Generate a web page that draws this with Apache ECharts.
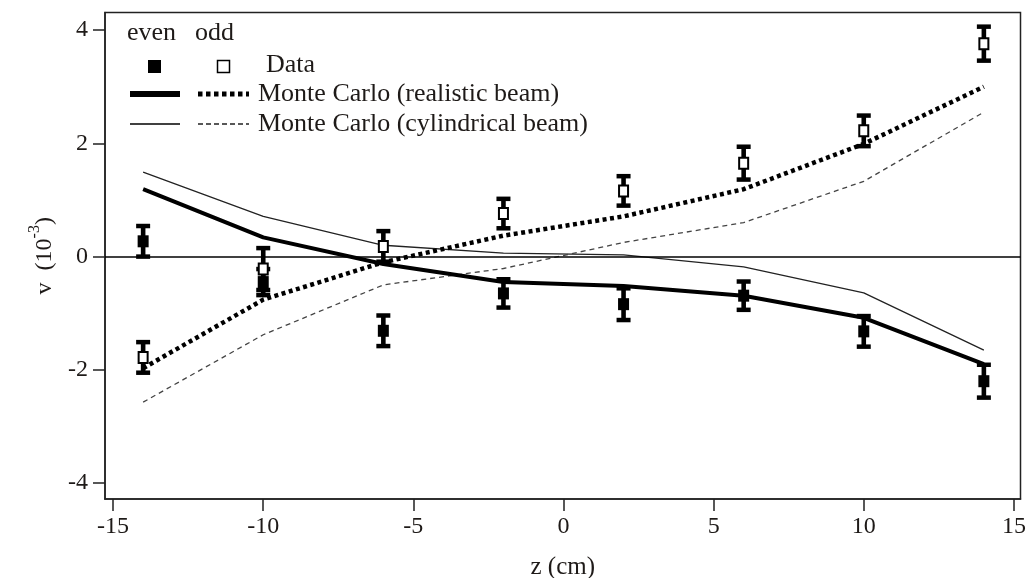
<!DOCTYPE html>
<html>
<head>
<meta charset="utf-8">
<script src="https://cdn.jsdelivr.net/npm/echarts@6/dist/echarts.min.js"></script>
<style>html,body{margin:0;padding:0;background:#fff;}#c{width:1028px;height:578px;}</style>
</head>
<body>
<div id="c"></div>
<script>
// ---- data ----
const zPos = [-14, -10, -6, -2, 2, 6, 10, 14];
const evenData = [0.27, -0.45, -1.31, -0.65, -0.84, -0.69, -1.32, -2.20];
const evenErr  = [0.27, 0.23, 0.27, 0.25, 0.28, 0.25, 0.27, 0.29];
const oddData  = [-1.78, -0.22, 0.18, 0.76, 1.16, 1.65, 2.22, 3.76];
const oddErr   = [0.27, 0.37, 0.27, 0.26, 0.26, 0.29, 0.27, 0.30];
const mcRealEven = [1.19, 0.34, -0.13, -0.45, -0.52, -0.69, -1.08, -1.90];
const mcRealOdd  = [-1.97, -0.76, -0.10, 0.37, 0.71, 1.19, 1.99, 3.00];
const mcCylEven  = [1.49, 0.71, 0.20, 0.06, 0.03, -0.18, -0.64, -1.65];
const mcCylOdd   = [-2.57, -1.38, -0.50, -0.21, 0.25, 0.60, 1.33, 2.55];
const xTicks = [-15, -10, -5, 0, 5, 10, 15];
const yTicks = [-4, -2, 0, 2, 4];
const legendLabels = ['even', 'odd', 'Data', 'Monte Carlo (realistic beam)', 'Monte Carlo (cylindrical beam)'];

const FONT = 'Liberation Serif';
const TXT = '#1e1a18';

const pairs = (ys) => zPos.map((z, i) => [z, ys[i]]);
const triples = (ys, es) => zPos.map((z, i) => [z, ys[i], es[i]]);

function errRender(filled) {
  return function (params, api) {
    const x = api.value(0), y = api.value(1), e = api.value(2);
    const top = api.coord([x, y + e]);
    const bot = api.coord([x, y - e]);
    const c = api.coord([x, y]);
    const hw = 7, ch = 4.5;
    const kids = [
      { type: 'rect', shape: { x: c[0] - 2.3, y: top[1], width: 4.6, height: bot[1] - top[1] }, style: { fill: '#000' } },
      { type: 'rect', shape: { x: top[0] - hw, y: top[1] - ch / 2, width: 2 * hw, height: ch }, style: { fill: '#000' } },
      { type: 'rect', shape: { x: bot[0] - hw, y: bot[1] - ch / 2, width: 2 * hw, height: ch }, style: { fill: '#000' } }
    ];
    if (filled) {
      kids.push({ type: 'rect', shape: { x: c[0] - 5.5, y: c[1] - 6, width: 11, height: 12 }, style: { fill: '#000' } });
    } else {
      kids.push({ type: 'rect', shape: { x: c[0] - 4.5, y: c[1] - 5.5, width: 9, height: 11 }, style: { fill: '#fff', stroke: '#000', lineWidth: 2 } });
    }
    return { type: 'group', children: kids };
  };
}

const chart = echarts.init(document.getElementById('c'), null, { renderer: 'canvas' });

const option = {
  backgroundColor: '#fff',
  animation: false,
  grid: {
    left: 105, right: 7.5, top: 12.5, bottom: 79,
    show: true, borderColor: '#222', borderWidth: 1.5, backgroundColor: 'transparent',
    containLabel: false, outerBoundsMode: 'none'
  },
  xAxis: {
    type: 'value', min: -15.27, max: 15.22,
    name: 'z (cm)', nameLocation: 'middle', nameGap: 56,
    nameTextStyle: { fontFamily: FONT, fontSize: 25, color: TXT },
    axisLine: { show: true, onZero: false, lineStyle: { color: '#222', width: 1.5 } },
    axisTick: { show: true, inside: false, length: 12, customValues: xTicks, lineStyle: { color: '#222', width: 1.5 } },
    axisLabel: { show: true, customValues: xTicks, margin: 16, fontFamily: FONT, fontSize: 24, color: TXT, formatter: v => String(v) },
    splitLine: { show: false }
  },
  yAxis: {
    type: 'value', min: -4.28, max: 4.31,
    name: '{n|v  (10}{s|-3}{n|)}', nameLocation: 'middle', nameGap: 48, nameRotate: 90,
    nameTextStyle: { fontFamily: FONT, fontSize: 24, color: TXT,
      rich: { n: { fontFamily: FONT, fontSize: 24, color: TXT, lineHeight: 30, verticalAlign: 'bottom' },
              s: { fontFamily: FONT, fontSize: 16, color: TXT, lineHeight: 30, verticalAlign: 'top' } } },
    axisLine: { show: true, onZero: false, lineStyle: { color: '#222', width: 1.5 } },
    axisTick: { show: true, inside: false, length: 12, customValues: yTicks, lineStyle: { color: '#222', width: 1.5 } },
    axisLabel: { show: true, customValues: yTicks, margin: 17, fontFamily: FONT, fontSize: 24, color: TXT, formatter: v => String(v) },
    splitLine: { show: false }
  },
  series: [
    {
      name: 'MC cyl even', type: 'line', data: pairs(mcCylEven), symbol: 'none',
      lineStyle: { color: '#222', width: 1.3, type: 'solid' }, z: 2,
      markLine: { silent: true, symbol: 'none', label: { show: false },
        lineStyle: { color: '#000', width: 1.5, type: 'solid' }, data: [{ yAxis: 0 }] }
    },
    { name: 'MC cyl odd', type: 'line', data: pairs(mcCylOdd), symbol: 'none',
      lineStyle: { color: '#444', width: 1.3, type: [5, 4] }, z: 2 },
    { name: 'MC real even', type: 'line', data: pairs(mcRealEven), symbol: 'none',
      lineStyle: { color: '#000', width: 4, type: 'solid' }, z: 3 },
    { name: 'MC real odd', type: 'line', data: pairs(mcRealOdd), symbol: 'none',
      lineStyle: { color: '#000', width: 4.5, type: [4, 3.5] }, z: 3 },
    { name: 'even', type: 'custom', renderItem: errRender(true), data: triples(evenData, evenErr),
      encode: { x: 0, y: 1 }, z: 5 },
    { name: 'odd', type: 'custom', renderItem: errRender(false), data: triples(oddData, oddErr),
      encode: { x: 0, y: 1 }, z: 6 }
  ],
  graphic: [
    { type: 'text', left: 127, top: 20, style: { text: legendLabels[0], font: '26px "' + FONT + '"', fill: TXT } },
    { type: 'text', left: 195, top: 20, style: { text: legendLabels[1], font: '26px "' + FONT + '"', fill: TXT } },
    { type: 'rect', shape: { x: 148, y: 60, width: 13, height: 13 }, style: { fill: '#000' } },
    { type: 'rect', shape: { x: 217.5, y: 60.5, width: 12, height: 12 }, style: { fill: '#fff', stroke: '#000', lineWidth: 1.5 } },
    { type: 'text', left: 266, top: 52, style: { text: legendLabels[2], font: '26px "' + FONT + '"', fill: TXT } },
    { type: 'line', shape: { x1: 130, y1: 94, x2: 180, y2: 94 }, style: { stroke: '#000', lineWidth: 6 } },
    { type: 'line', shape: { x1: 198, y1: 94, x2: 249, y2: 94 }, style: { stroke: '#000', lineWidth: 5, lineDash: [4.5, 3.5] } },
    { type: 'text', left: 258, top: 81, style: { text: legendLabels[3], font: '26px "' + FONT + '"', fill: TXT } },
    { type: 'line', shape: { x1: 130, y1: 124, x2: 180, y2: 124 }, style: { stroke: '#000', lineWidth: 1.5 } },
    { type: 'line', shape: { x1: 198, y1: 124, x2: 249, y2: 124 }, style: { stroke: '#222', lineWidth: 1.3, lineDash: [5, 3] } },
    { type: 'text', left: 258, top: 111, style: { text: legendLabels[4], font: '26px "' + FONT + '"', fill: TXT } }
  ]
};
chart.setOption(option);
</script>
</body>
</html>
